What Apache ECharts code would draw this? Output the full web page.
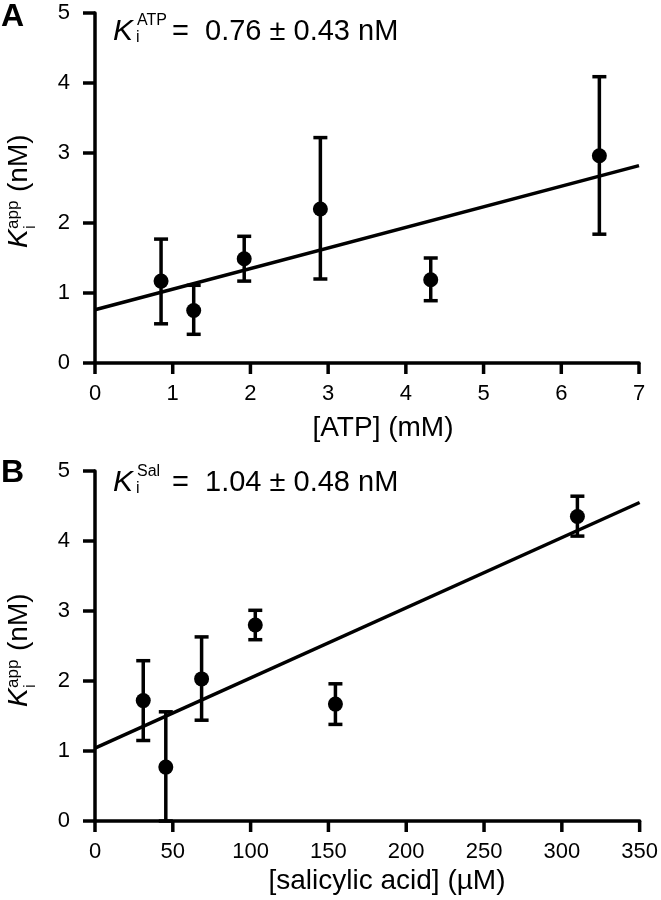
<!DOCTYPE html>
<html>
<head>
<meta charset="utf-8">
<script src="https://cdn.jsdelivr.net/npm/echarts@6/dist/echarts.min.js"></script>
<style>
html,body{margin:0;padding:0;background:#fff;}
#chart{width:661px;height:900px;}
</style>
</head>
<body>
<div id="chart"></div>
<script>
// ---- Panel A: K_i^app vs [ATP] (mM) ----
var atpX  = [0.85, 1.27, 1.92, 2.90, 4.32, 6.49];
var atpY  = [1.17, 0.75, 1.49, 2.20, 1.19, 2.96];
var atpLo = [0.56, 0.41, 1.17, 1.20, 0.89, 1.84];
var atpHi = [1.77, 1.11, 1.81, 3.22, 1.50, 4.09];
var atpFitX = [0, 7];
var atpFitY = [0.76, 2.82];
var atpTicksX = [0, 1, 2, 3, 4, 5, 6, 7];

// ---- Panel B: K_i^app vs [salicylic acid] (µM) ----
var salX  = [31, 45.5, 68.5, 103, 154.5, 310];
var salY  = [1.72, 0.77, 2.03, 2.80, 1.67, 4.35];
var salLo = [1.15, 0.00, 1.44, 2.59, 1.38, 4.07];
var salHi = [2.29, 1.56, 2.63, 3.01, 1.96, 4.64];
var salFitX = [0, 350];
var salFitY = [1.04, 4.55];
var salTicksX = [0, 50, 100, 150, 200, 250, 300, 350];

var yTicks = [0, 1, 2, 3, 4, 5];

var FONT = '"Liberation Sans", Arial, Helvetica, sans-serif';

function zip(a, b) { return a.map(function (v, i) { return [v, b[i]]; }); }
function errData(x, lo, hi) { return x.map(function (v, i) { return [v, lo[i], hi[i]]; }); }

function errRender(params, api) {
  var x = api.value(0), lo = api.value(1), hi = api.value(2);
  var pLo = api.coord([x, lo]);
  var pHi = api.coord([x, hi]);
  var cap = 7;
  var st = { stroke: '#000', lineWidth: 3.5 };
  return {
    type: 'group',
    children: [
      { type: 'line', shape: { x1: pLo[0], y1: pLo[1], x2: pHi[0], y2: pHi[1] }, style: st },
      { type: 'line', shape: { x1: pHi[0] - cap, y1: pHi[1], x2: pHi[0] + cap, y2: pHi[1] }, style: st },
      { type: 'line', shape: { x1: pLo[0] - cap, y1: pLo[1], x2: pLo[0] + cap, y2: pLo[1] }, style: st }
    ]
  };
}

// axis ticks drawn through the axes' own scales (x ticks point down, y ticks point left)
function xTickRender(params, api) {
  var p = api.coord([api.value(0), 0]);
  return { type: 'line', shape: { x1: p[0], y1: p[1], x2: p[0], y2: p[1] + 11 },
           style: { stroke: '#000', lineWidth: 3.5 } };
}
function yTickRender(params, api) {
  var p = api.coord([0, api.value(1)]);
  return { type: 'line', shape: { x1: p[0] - 12, y1: p[1], x2: p[0], y2: p[1] },
           style: { stroke: '#000', lineWidth: 3.5 } };
}
function tickSeries(grid, xt) {
  return [
    { type: 'custom', xAxisIndex: grid, yAxisIndex: grid, clip: false, silent: true, z: 5,
      data: xt.map(function (v) { return [v, 0]; }), renderItem: xTickRender },
    { type: 'custom', xAxisIndex: grid, yAxisIndex: grid, clip: false, silent: true, z: 5,
      data: yTicks.map(function (v) { return [0, v]; }), renderItem: yTickRender }
  ];
}

function xAxisCfg(grid, max, interval) {
  return {
    type: 'value', gridIndex: grid, min: 0, max: max, interval: interval,
    axisLine: { show: true, lineStyle: { color: '#000', width: 3.5 } },
    axisTick: { show: false },
    axisLabel: { color: '#000', fontSize: 22, fontFamily: FONT, margin: 20 },
    splitLine: { show: false }
  };
}
function yAxisCfg(grid) {
  return {
    type: 'value', gridIndex: grid, min: 0, max: 5, interval: 1,
    axisLine: { show: true, lineStyle: { color: '#000', width: 3.5 } },
    axisTick: { show: false },
    axisLabel: { color: '#000', fontSize: 22, fontFamily: FONT, margin: 25 },
    splitLine: { show: false }
  };
}

function txt(x, y, text, font, align) {
  return { type: 'text', x: x, y: y,
    style: { text: text, font: font, fill: '#000', align: align || 'left', textAlign: align || 'left',
             verticalAlign: 'middle', textVerticalAlign: 'middle' } };
}
function yTitle(x, y) {
  return {
    type: 'group', x: x, y: y, rotation: Math.PI / 2,
    children: [
      txt(0, 0, 'K', 'italic 28px ' + FONT),
      txt(19, -6, 'app', '17px ' + FONT),
      txt(19, 11, 'i', '17px ' + FONT),
      txt(56, 0, '(nM)', '28px ' + FONT)
    ]
  };
}
function annot(y, sup, rest) {
  return [
    txt(113, y, 'K', 'italic 30px ' + FONT),
    txt(137, y - 11, sup, '16px ' + FONT),
    txt(136, y + 6, 'i', '16px ' + FONT),
    txt(172, y, rest, '29px ' + FONT)
  ];
}

var chart = echarts.init(document.getElementById('chart'), null, { renderer: 'canvas' });
chart.setOption({
  backgroundColor: '#fff',
  animation: false,
  grid: [
    { left: 95, top: 13, width: 544, height: 350 },
    { left: 95, top: 471, width: 545, height: 350 }
  ],
  xAxis: [xAxisCfg(0, 7, 1), xAxisCfg(1, 350, 50)],
  yAxis: [yAxisCfg(0), yAxisCfg(1)],
  series: [
    { type: 'line', xAxisIndex: 0, yAxisIndex: 0, data: zip(atpFitX, atpFitY), symbol: 'none',
      lineStyle: { color: '#000', width: 3.5 }, z: 2 },
    { type: 'custom', xAxisIndex: 0, yAxisIndex: 0, data: errData(atpX, atpLo, atpHi), renderItem: errRender, z: 3 },
    { type: 'scatter', xAxisIndex: 0, yAxisIndex: 0, data: zip(atpX, atpY), symbol: 'circle', symbolSize: 15,
      itemStyle: { color: '#000', opacity: 1 }, z: 4 },

    { type: 'line', xAxisIndex: 1, yAxisIndex: 1, data: zip(salFitX, salFitY), symbol: 'none',
      lineStyle: { color: '#000', width: 3.5 }, z: 2 },
    { type: 'custom', xAxisIndex: 1, yAxisIndex: 1, data: errData(salX, salLo, salHi), renderItem: errRender, z: 3 },
    { type: 'scatter', xAxisIndex: 1, yAxisIndex: 1, data: zip(salX, salY), symbol: 'circle', symbolSize: 15,
      itemStyle: { color: '#000', opacity: 1 }, z: 4 }
  ].concat(tickSeries(0, atpTicksX)).concat(tickSeries(1, salTicksX)),
  graphic: [
    txt(1, 17, 'A', 'bold 32px ' + FONT),
    txt(1, 473, 'B', 'bold 32px ' + FONT),
    yTitle(19, 248),
    yTitle(19, 707),
    txt(383, 428, '[ATP] (mM)', '28px ' + FONT, 'center'),
    txt(387, 881, '[salicylic acid] (\u00B5M)', '28px ' + FONT, 'center')
  ].concat(annot(32, 'ATP', '=  0.76 \u00B1 0.43 nM'))
   .concat(annot(483, 'Sal', '=  1.04 \u00B1 0.48 nM'))
});
</script>
</body>
</html>
